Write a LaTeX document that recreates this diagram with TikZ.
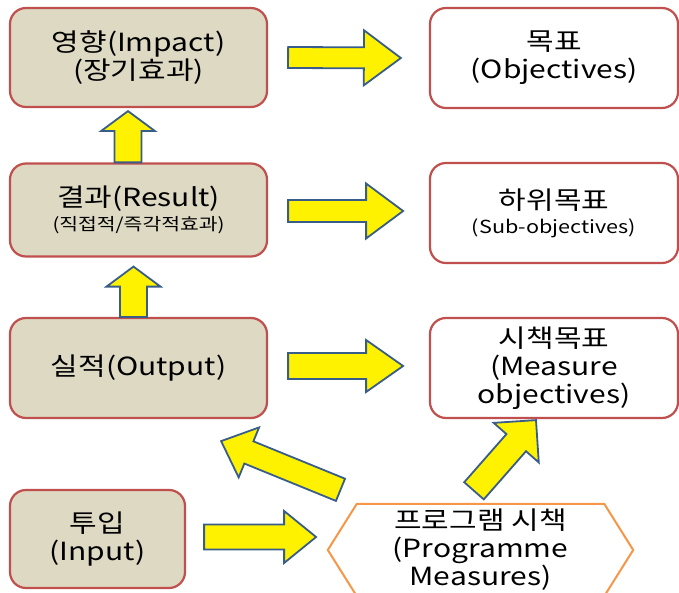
\documentclass[tikz,border=0pt]{standalone}
\usepackage{fontspec}
\setmainfont{Noto Sans CJK KR}[FakeStretch=1.2]
\usetikzlibrary{calc}

\definecolor{boxtan}{HTML}{DDD9C3}
\definecolor{boxred}{HTML}{C0504D}
\definecolor{hexorange}{HTML}{F79646}
\definecolor{arrowblue}{HTML}{385D8A}

% block arrow: from, to, shaft half width, head half width, head length
\newcommand{\blockarrow}[5]{%
  \coordinate (hb) at ($(#2)!#5!(#1)$);
  \draw[blockarr] ($(#1)!#3!90:(#2)$) -- ($(hb)!#3!-90:(#1)$) -- ($(hb)!#4!-90:(#1)$)
    -- (#2) -- ($(hb)!#4!90:(#1)$) -- ($(hb)!#3!90:(#1)$) -- ($(#1)!#3!-90:(#2)$) -- cycle;
}

\begin{document}
\begin{tikzpicture}[
    x=1pt, y=-1pt,
    every node/.style={font=\fontsize{25}{28}\selectfont, align=center},
    goalbox/.style={draw=boxred, line width=2.2pt, rounded corners=16pt, fill=white,
        minimum width=248pt, minimum height=100pt},
    stagebox/.style={goalbox, fill=boxtan, minimum width=257pt},
    blockarr/.style={draw=arrowblue, line width=1.8pt, fill=yellow, line join=miter}
]
\clip (0,0) rectangle (679,593);

% --- Stages (left column) ---
\node[stagebox, minimum height=99pt] (impact) at (138.5,57.5) {영향(Impact)\\(장기효과)};
\node[stagebox, minimum height=93pt] (result) at (138.5,210)
    {결과(Result)\\[-4pt]{\fontsize{17}{20}\selectfont(직접적/즉각적효과)}};
\node[stagebox] (output) at (138.5,368) {실적(Output)};
\node[stagebox, minimum width=175pt, minimum height=98pt] (input) at (97.5,539) {투입\\(Input)};

% --- Objectives (right column) ---
\node[goalbox] (objectives) at (554,58) {목표\\(Objectives)};
\node[goalbox] (subobj) at (554,213)
    {하위목표\\[-4pt]{\fontsize{18}{20}\selectfont(Sub-objectives)}};
\node[goalbox] (measure) at (554,368) {시책목표\\(Measure\\objectives)};

% --- Programme measures (hexagon) ---
\node[inner sep=2pt, minimum width=305pt, minimum height=92pt]
    (prog) at (480.5,550) {프로그램 시책\\(Programme\\Measures)};
\draw[hexorange, line width=2pt] (prog.west) -- ($(prog.north west)+(29,0)$)
    -- ($(prog.north east)+(-29,0)$) -- (prog.east) -- ($(prog.south east)+(-29,0)$)
    -- ($(prog.south west)+(29,0)$) -- cycle;

% --- Arrow end points ---
\coordinate (a1s) at ($(impact.east)+(20,0)$);
\coordinate (a1e) at ($(objectives.west)+(-28,0)$);
\coordinate (a2s) at ($(result.east)+(20,1)$);
\coordinate (a2e) at ($(result.east)+(135,1)$);
\coordinate (a3s) at ($(output.east)+(20,-2)$);
\coordinate (a3e) at ($(output.east)+(135,-2)$);
\coordinate (a4s) at ($(result.north)+(-10.5,0)$);
\coordinate (a4e) at ($(impact.south)+(-10.5,3)$);
\coordinate (a5s) at ($(output.north)+(-5,0)$);
\coordinate (a5e) at ($(result.south)+(-5,9)$);
\coordinate (a6s) at ($(input.east)+(18,-2)$);
\coordinate (a6e) at ($(input.east)+(130,-2)$);
\coordinate (a7s) at ($(prog.north)+(-140,-14)$);
\coordinate (a7e) at ($(output.south east)+(-47,22)$);
\coordinate (a8s) at ($(prog.north)+(-6.5,-13)$);
\coordinate (a8e) at ($(measure.south)+(-18,1)$);

% --- Block arrows ---
\blockarrow{a1s}{a1e}{10.5pt}{27.5pt}{37pt}
\blockarrow{a2s}{a2e}{11pt}{27.5pt}{37pt}
\blockarrow{a3s}{a3e}{13pt}{26pt}{37pt}
\blockarrow{a4s}{a4e}{13.5pt}{27pt}{20pt}
\blockarrow{a5s}{a5e}{13.5pt}{27pt}{20pt}
\blockarrow{a6s}{a6e}{12.5pt}{26pt}{32pt}
\blockarrow{a7s}{a7e}{12pt}{27pt}{30pt}
\blockarrow{a8s}{a8e}{13pt}{30pt}{30pt}

\end{tikzpicture}
\end{document}
